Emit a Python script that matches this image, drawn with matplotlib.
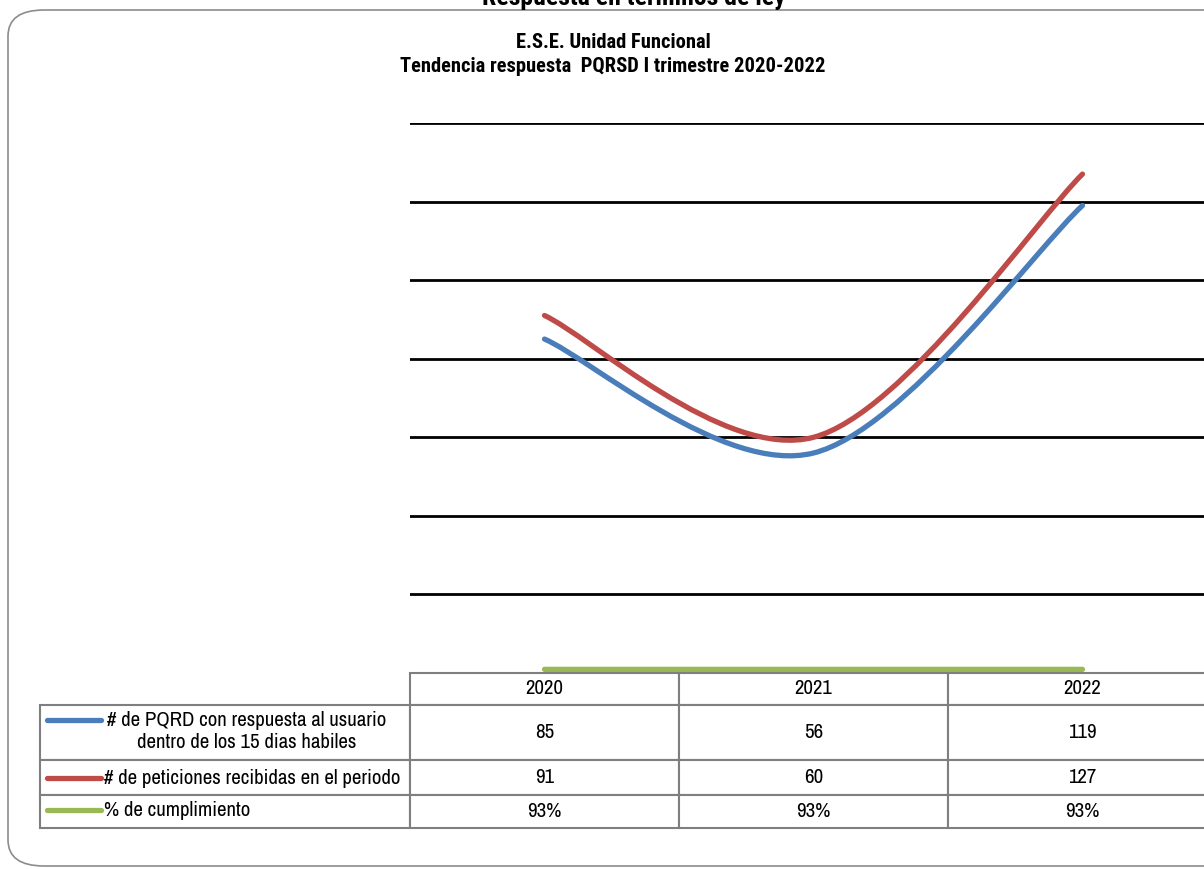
import matplotlib
matplotlib.use("Agg")
import logging
logging.getLogger("matplotlib.font_manager").setLevel(logging.ERROR)
import matplotlib.pyplot as plt
from matplotlib.path import Path
from matplotlib.patches import PathPatch, FancyBboxPatch

years = ["2020", "2021", "2022"]
respondidas = [85, 56, 119]
recibidas = [91, 60, 127]
cumplimiento = [0.93, 0.93, 0.93]
cumplimiento_lbl = ["93%", "93%", "93%"]
series_labels = ["# de PQRD con respuesta al usuario\ndentro de los 15 dias habiles",
                 "# de peticiones recibidas en el periodo",
                 "% de cumplimiento"]
colors = ["#4A7EBB", "#BE4B48", "#98B954"]

NARROW = ["Liberation Sans Narrow", "Arial Narrow", "Archivo Narrow", "Liberation Sans"]
NARROW_B = ["Liberation Sans Narrow", "Arial Narrow", "Roboto Condensed",
            "IBM Plex Sans Condensed", "Liberation Sans"]

W, H = 1204, 869
fig = plt.figure(figsize=(W / 100, H / 100), dpi=100)

def fx(px):
    return px / W

def fy(py):
    return 1 - py / H

# rounded outer frame
frame = FancyBboxPatch((fx(8), fy(866)), fx(1300) - fx(8), fy(10) - fy(866),
                       boxstyle="round,pad=0,rounding_size=0.03",
                       transform=fig.transFigure, fill=False, ec="#8c8c8c", lw=1.2)
fig.add_artist(frame)

fig.text(fx(634), fy(5), "Respuesta en términos de ley", ha="center", va="baseline",
         fontsize=18.5, fontweight="bold", family=NARROW_B)
fig.text(fx(613), fy(42), "E.S.E. Unidad Funcional", ha="center", va="center",
         fontsize=14.8, fontweight="bold", family=NARROW_B)
fig.text(fx(613), fy(67), "Tendencia respuesta  PQRSD I trimestre 2020-2022", ha="center", va="center",
         fontsize=14.8, fontweight="bold", family=NARROW_B)

# plot axes
ax = fig.add_axes([fx(410), fy(673), fx(1217) - fx(410), fy(123) - fy(673)])
ax.set_xlim(-0.5, 2.5)
ax.set_ylim(0, 140)
for v in range(20, 141, 20):
    ax.axhline(v, color="black", lw=2, zorder=1)
for s in ax.spines.values():
    s.set_visible(False)
ax.set_xticks([])
ax.set_yticks([])


def smooth_path(xs, ys):
    pts = list(zip(xs, ys))
    n = len(pts)
    verts = [pts[0]]
    codes = [Path.MOVETO]
    for i in range(n - 1):
        p0 = pts[max(i - 1, 0)]
        p1 = pts[i]
        p2 = pts[i + 1]
        p3 = pts[min(i + 2, n - 1)]
        c1 = (p1[0] + (p2[0] - p0[0]) / 6, p1[1] + (p2[1] - p0[1]) / 6)
        c2 = (p2[0] - (p3[0] - p1[0]) / 6, p2[1] - (p3[1] - p1[1]) / 6)
        verts += [c1, c2, p2]
        codes += [Path.CURVE4] * 3
    return Path(verts, codes)

xs = list(range(len(years)))
for vals, c in zip([cumplimiento, respondidas, recibidas], [colors[2], colors[0], colors[1]]):
    patch = PathPatch(smooth_path(xs, vals), fill=False, ec=c, lw=3.8, capstyle="round",
                      joinstyle="round", zorder=3)
    ax.add_patch(patch)

# data table
tax = fig.add_axes([fx(40), fy(828), fx(1217) - fx(40), fy(673) - fy(828)])
tax.set_axis_off()
cell_text = [[""] + years,
             [""] + [str(v) for v in respondidas],
             [""] + [str(v) for v in recibidas],
             [""] + cumplimiento_lbl]
col_w = [370, 269, 269, 269]
tot = sum(col_w)
row_h = [32, 55, 35, 33]
FS = 15.0
tbl = tax.table(cellText=cell_text, colWidths=[w / tot for w in col_w],
                cellLoc="center", bbox=[0, 0, 1, 1])
tbl.auto_set_font_size(False)
for (r, c), cell in tbl.get_celld().items():
    cell.set_height(row_h[r] / sum(row_h))
    cell.set_edgecolor("#7f7f7f")
    cell.set_linewidth(1.5)
    cell.get_text().set_fontsize(FS)
    cell.get_text().set_family(NARROW)
    if r == 0 and c == 0:
        cell.visible_edges = ""

# legend keys and labels inside the first column
tot_h = sum(row_h)
def ty(py):
    return (828 - py) / tot_h

def tx(px):
    return (px - 40) / tot

key_y = [720, 778, 810]
for k, (lbl, c) in enumerate(zip(series_labels, colors)):
    tax.plot([tx(47), tx(101)], [ty(key_y[k]), ty(key_y[k])], color=c, lw=3.8,
             solid_capstyle="round", transform=tax.transAxes, clip_on=False)
text_pos = [(247, 732), (104, 778), (104, 810)]
for k, lbl in enumerate(series_labels):
    x, y = text_pos[k]
    ha = "center" if k == 0 else "left"
    tax.text(tx(x), ty(y), lbl, ha=ha, va="center", fontsize=FS, family=NARROW,
             transform=tax.transAxes, linespacing=1.2)

fig.savefig("out.png", dpi=100)
